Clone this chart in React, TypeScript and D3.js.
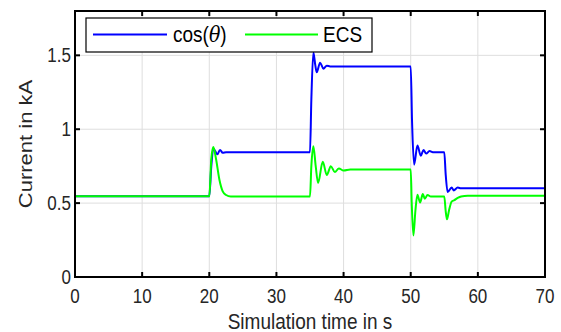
import React from "react";
import * as d3 from "d3";

const xTicks = [0, 10, 20, 30, 40, 50, 60, 70];
const yTicks = [0, 0.5, 1, 1.5];
const yTickLabels = ["0", "0.5", "1", "1.5"];

const tCos = [0, 20, 20.3, 20.6, 20.9, 21.2, 21.6, 22.0, 22.5, 35, 35.2, 35.5, 35.8, 36.0, 36.5, 37.0, 37.5, 38, 50, 50.2, 50.5, 51.0, 51.5, 51.9, 52.3, 52.8, 53.3, 55, 55.2, 55.5, 56.1, 56.4, 57.0, 57.5, 70];
const vCos = [0.546, 0.546, 0.75, 0.87, 0.85, 0.83, 0.86, 0.84, 0.845, 0.845, 1.2, 1.52, 1.43, 1.385, 1.45, 1.41, 1.43, 1.425, 1.425, 1.05, 0.76, 0.89, 0.82, 0.86, 0.835, 0.853, 0.845, 0.845, 0.7, 0.575, 0.606, 0.586, 0.605, 0.6, 0.6];

const tEcs = [0, 20, 20.3, 20.6, 21.0, 21.5, 22.0, 22.5, 23.2, 35, 35.2, 35.5, 35.85, 36.2, 36.9, 37.5, 38.1, 38.7, 39.3, 40.0, 41, 50, 50.15, 50.4, 50.7, 51.0, 51.4, 51.8, 52.1, 52.5, 53, 55, 55.2, 55.4, 55.7, 56.1, 56.5, 57.0, 57.5, 58.5, 70];
const vEcs = [0.546, 0.546, 0.8, 0.88, 0.8, 0.66, 0.58, 0.555, 0.545, 0.545, 0.75, 0.885, 0.75, 0.636, 0.78, 0.69, 0.75, 0.71, 0.735, 0.72, 0.727, 0.727, 0.5, 0.28, 0.45, 0.557, 0.504, 0.561, 0.53, 0.555, 0.545, 0.545, 0.45, 0.39, 0.45, 0.51, 0.52, 0.535, 0.545, 0.55, 0.55];

const W = 561, H = 332;
const L = 75, R = 545, T = 11, B = 277;
const FONT = "'Liberation Sans', Arial, Helvetica, sans-serif";
const SY = 1.16;

export default function App() {
  const x = d3.scaleLinear().domain([0, 70]).range([L, R]);
  const y = d3.scaleLinear().domain([0, 1.8]).range([B, T]);
  const line = d3.line<[number, number]>().x(d => x(d[0])).y(d => y(d[1])).curve(d3.curveMonotoneX);
  const cosPath = line(tCos.map((t, i) => [t, vCos[i]]) as [number, number][]) || "";
  const ecsPath = line(tEcs.map((t, i) => [t, vEcs[i]]) as [number, number][]) || "";

  return (
    <svg width={W} height={H} style={{ position: "absolute", left: 0, top: 0 }} fontFamily={FONT}>
      <rect x={0} y={0} width={W} height={H} fill="#fff" />
      {xTicks.map(t => (
        <line key={"gx" + t} x1={x(t)} x2={x(t)} y1={T} y2={B} stroke="#dedede" strokeWidth={1} />
      ))}
      {yTicks.map(t => (
        <line key={"gy" + t} x1={L} x2={R} y1={y(t)} y2={y(t)} stroke="#dedede" strokeWidth={1} />
      ))}
      <path d={cosPath} fill="none" stroke="#0000ff" strokeWidth={2} />
      <path d={ecsPath} fill="none" stroke="#00ff00" strokeWidth={2} />
      <rect x={L} y={T} width={R - L} height={B - T} fill="none" stroke="#000" strokeWidth={2} />
      {xTicks.map(t => (
        <g key={"tx" + t}>
          <line x1={x(t)} x2={x(t)} y1={B} y2={B - 5} stroke="#000" strokeWidth={2} />
          <line x1={x(t)} x2={x(t)} y1={T} y2={T + 5} stroke="#000" strokeWidth={2} />
          <text transform={`translate(${x(t)},${302.5}) scale(1,${SY})`} textAnchor="middle" fontSize={17} fill="#262626">{t}</text>
        </g>
      ))}
      {yTicks.map((t, i) => (
        <g key={"ty" + t}>
          <line x1={L} x2={L + 5} y1={y(t)} y2={y(t)} stroke="#000" strokeWidth={2} />
          <line x1={R} x2={R - 5} y1={y(t)} y2={y(t)} stroke="#000" strokeWidth={2} />
          <text transform={`translate(${71},${y(t) + 7}) scale(1,${SY})`} textAnchor="end" fontSize={17} fill="#262626">{yTickLabels[i]}</text>
        </g>
      ))}
      <text transform={`translate(${(L + R) / 2},${329}) scale(1,${SY})`} textAnchor="middle" fontSize={19} fill="#262626">Simulation time in s</text>
      <text transform={`translate(${32},${(T + B) / 2}) rotate(-90) scale(${SY},1)`} textAnchor="middle" fontSize={19} fill="#262626">Current in kA</text>
      <rect x={86} y={18} width={286} height={34} fill="#fff" stroke="#000" strokeWidth={1.2} />
      <line x1={93} x2={167} y1={34.5} y2={34.5} stroke="#0000ff" strokeWidth={2} />
      <text transform={`translate(${173},${41.5}) scale(1,${SY})`} fontSize={19} fill="#000">
        cos(<tspan fontStyle="italic" fontFamily="'DejaVu Serif', serif">θ</tspan>)
      </text>
      <line x1={245} x2={318} y1={34.5} y2={34.5} stroke="#00ff00" strokeWidth={2} />
      <text transform={`translate(${323},${41.5}) scale(1,${SY})`} fontSize={19} fill="#000">ECS</text>
    </svg>
  );
}
